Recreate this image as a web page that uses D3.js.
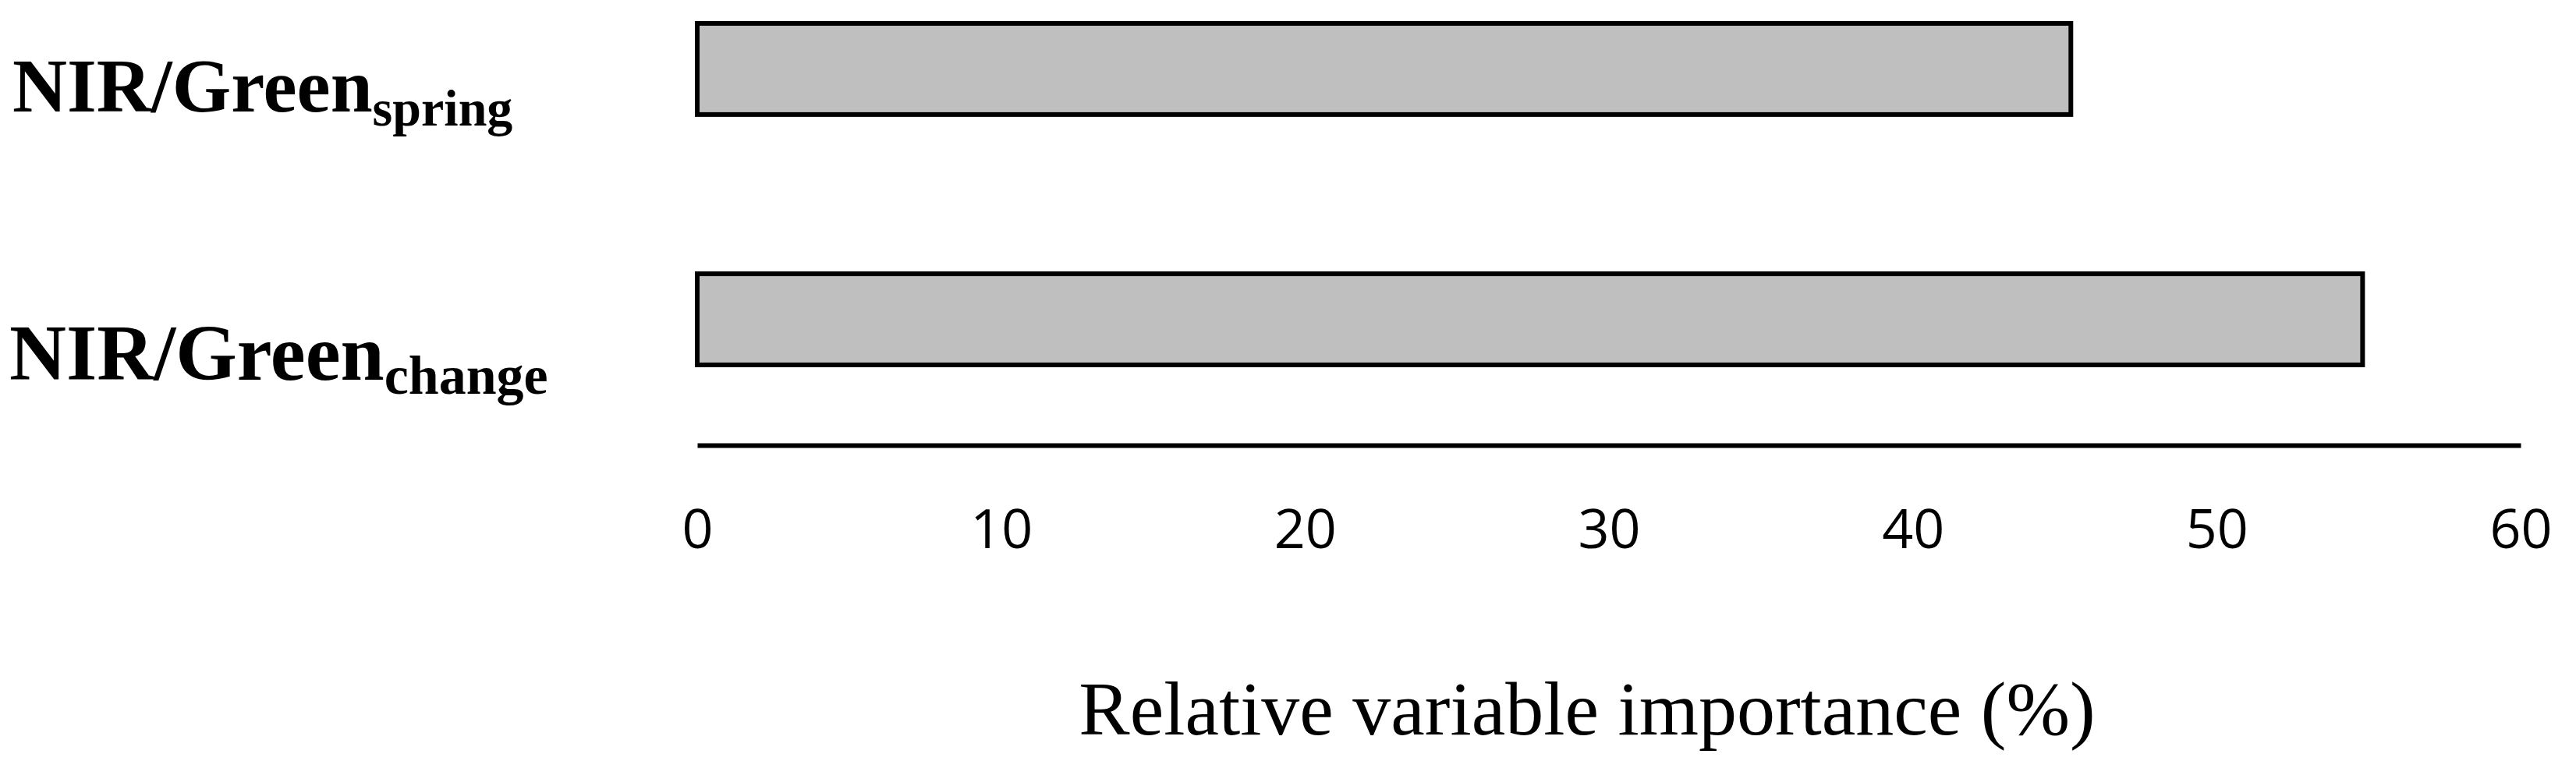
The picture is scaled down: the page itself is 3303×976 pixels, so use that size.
<!DOCTYPE html>
<html>
<head>
<meta charset="utf-8">
<script src="https://cdn.jsdelivr.net/npm/d3@7"></script>
<style>
  html, body { margin: 0; padding: 0; background: #ffffff; }
  svg { display: block; }
</style>
</head>
<body>
<div id="chart"></div>
<script>
// ---- data ----
const categories = ["NIR/Green", "NIR/Green"];
const subscripts = ["spring", "change"];
const values = [45.2, 54.8];
const xTicks = [0, 10, 20, 30, 40, 50, 60];
const xTitle = "Relative variable importance (%)";

// ---- layout ----
const W = 3303, H = 976;
const svg = d3.select("#chart").append("svg")
  .attr("width", W).attr("height", H)
  .attr("viewBox", `0 0 ${W} ${H}`);
svg.append("rect").attr("width", W).attr("height", H).attr("fill", "#ffffff");

const x = d3.scaleLinear().domain([0, 60]).range([894, 3232]);
const y = d3.scaleBand().domain(d3.range(categories.length))
  .range([30, 468]).paddingInner(0.636).paddingOuter(0);

// bars
svg.append("g").selectAll("rect").data(values).join("rect")
  .attr("x", x(0))
  .attr("y", (d, i) => y(i))
  .attr("width", d => x(d) - x(0))
  .attr("height", y.bandwidth())
  .attr("fill", "#bfbfbf")
  .attr("stroke", "#000000")
  .attr("stroke-width", 6);

// x axis
const axisY = 571;
const gx = svg.append("g").attr("transform", `translate(0,${axisY})`)
  .call(d3.axisBottom(x).tickValues(xTicks).tickSize(0).tickSizeOuter(0).tickPadding(80)
    .tickFormat(d3.format("d")));
gx.select(".domain").attr("stroke", "#000000").attr("stroke-width", 6);
gx.selectAll(".tick text")
  .attr("font-family", "'Open Sans', sans-serif")
  .attr("font-size", 70)
  .attr("fill", "#000000")
  .attr("dy", "0")
  .attr("y", 132);

// x title
svg.append("text")
  .attr("x", 2035).attr("y", 942)
  .attr("text-anchor", "middle")
  .attr("font-family", "'Liberation Serif', serif")
  .attr("font-size", 98)
  .attr("fill", "#000000")
  .text(xTitle);

// category labels with subscripts
const labelDy = [55, 77];
const labelSize = [97, 101];
const subSize = [66, 70];
const lab = svg.append("g").selectAll("text").data(categories).join("text")
  .attr("x", (d, i) => i === 0 ? 16 : 12)
  .attr("y", (d, i) => y(i) + y.bandwidth() / 2 + labelDy[i])
  .attr("font-family", "'Liberation Serif', serif")
  .attr("font-weight", "bold")
  .attr("fill", "#000000");
lab.append("tspan").attr("font-size", (d, i) => labelSize[i]).text(d => d);
lab.append("tspan").attr("font-size", (d, i) => subSize[i]).attr("dy", 18)
  .text((d, i) => subscripts[i]);
</script>
</body>
</html>
